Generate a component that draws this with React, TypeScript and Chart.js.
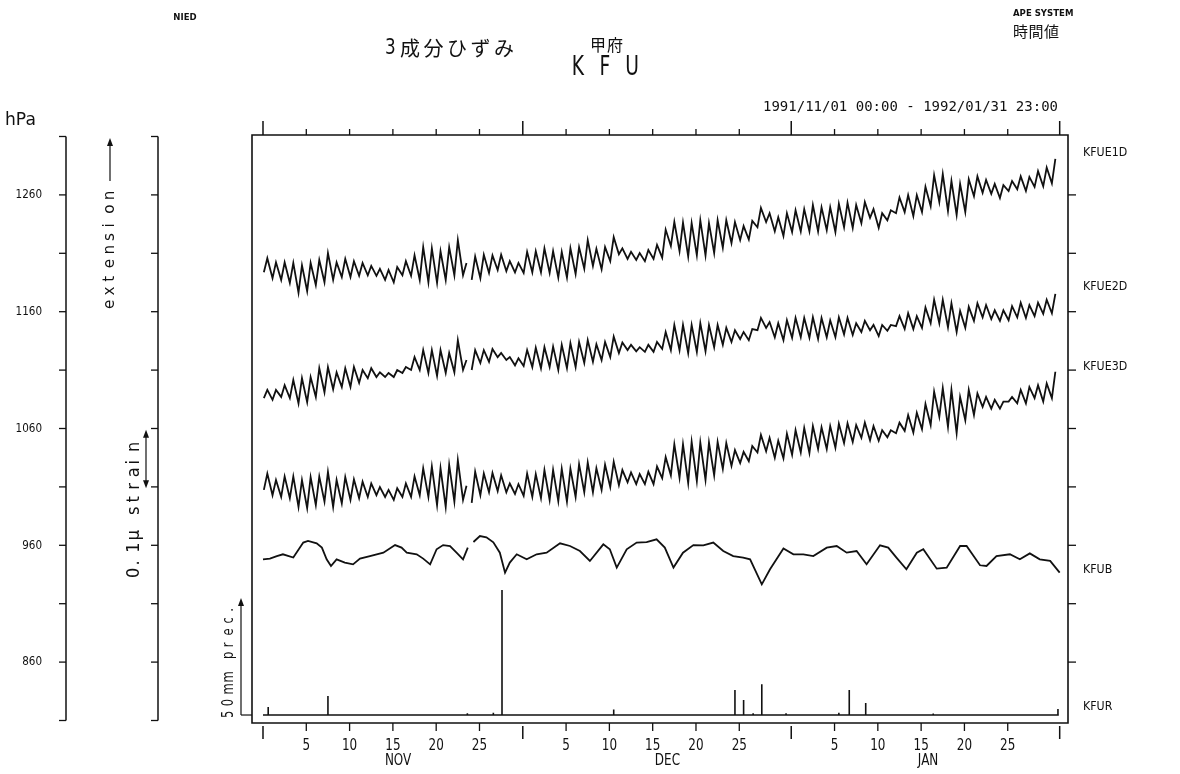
import React, { useEffect, useRef } from "react";
import { Chart, registerables } from "chart.js";

Chart.register(...registerables);

// ---------- time axis (days since 1991/11/01 00:00) ----------
const monthStartDays = [0, 30, 61, 92];
const monthNames = ["NOV", "DEC", "JAN"];
const monthLabelDays = [15.6, 46.7, 76.8];
const dayTickDays = [5, 10, 15, 20, 25];
const dayTickLabels = ["5", "10", "15", "20", "25"];

// ---------- pressure axis (hPa) ----------
const hpaTicks = [810, 860, 910, 960, 1010, 1060, 1110, 1160, 1210, 1260, 1310];
const hpaLabels = [860, 960, 1060, 1160, 1260];
const rightTicks = [860, 910, 960, 1010, 1060, 1110, 1160, 1210, 1260];

// ---------- strain (relative, 1e-9 strain): daily trough and daily peak ----------
const kfue1dLow = [
  767, 757, 754, 749, 732, 735, 745, 750, 754, 759,
  759, 761, 762, 761, 754, 750, 762, 761, 754, 750,
  749, 754, 762, 762, 754, 757, 766, 771, 769, 767,
  766, 767, 767, 766, 758, 758, 764, 773, 778, 772,
  786, 798, 790, 788, 786, 790, 792, 812, 803, 794,
  796, 796, 800, 809, 817, 822, 823, 844, 853, 837,
  829, 836, 837, 837, 837, 839, 836, 844, 843, 851,
  860, 843, 856, 868, 870, 863, 870, 880, 887, 872,
  865, 870, 897, 903, 901, 894, 906, 909, 906, 913,
  914, 919,
];
const kfue1dHigh = [
  791, 784, 784, 783, 779, 783, 788, 800, 784, 790,
  786, 783, 778, 773, 771, 776, 786, 796, 810, 808,
  803, 810, 822, 783, 794, 797, 796, 797, 786, 783,
  802, 803, 808, 803, 802, 808, 810, 822, 807, 810,
  827, 808, 802, 800, 805, 814, 840, 853, 852, 851,
  856, 851, 856, 856, 853, 846, 855, 877, 868, 861,
  868, 873, 875, 882, 878, 878, 884, 886, 882, 887,
  875, 868, 873, 895, 899, 899, 913, 933, 935, 923,
  918, 926, 931, 925, 918, 916, 923, 931, 930, 940,
  946, 961,
];
const kfue2dLow = [
  552, 549, 554, 552, 543, 545, 554, 562, 567, 571,
  571, 578, 586, 588, 588, 588, 595, 600, 600, 595,
  590, 595, 596, 600, 600, 612, 614, 622, 617, 608,
  607, 605, 603, 605, 600, 603, 605, 612, 614, 617,
  622, 629, 634, 632, 631, 631, 636, 634, 634, 629,
  631, 632, 639, 643, 648, 653, 651, 668, 672, 656,
  651, 655, 656, 655, 653, 656, 656, 661, 660, 665,
  668, 658, 667, 675, 670, 670, 672, 680, 680, 673,
  665, 672, 684, 690, 687, 684, 685, 690, 689, 692,
  696, 697,
];
const kfue2dHigh = [
  566, 566, 574, 583, 586, 588, 603, 605, 596, 603,
  605, 600, 603, 596, 595, 600, 605, 622, 634, 634,
  634, 629, 651, 617, 634, 634, 636, 629, 622, 620,
  634, 638, 639, 640, 643, 646, 648, 651, 644, 648,
  657, 647, 643, 639, 643, 648, 665, 677, 677, 677,
  680, 677, 677, 672, 668, 665, 670, 689, 682, 680,
  685, 689, 689, 690, 689, 685, 690, 689, 680, 684,
  677, 677, 677, 692, 697, 692, 707, 720, 720, 714,
  701, 708, 714, 711, 702, 702, 709, 715, 711, 715,
  720, 730,
];
const kfue3dLow = [
  395, 386, 383, 381, 366, 364, 369, 375, 366, 372,
  378, 381, 383, 386, 383, 378, 383, 383, 386, 383,
  369, 366, 375, 378, 373, 386, 391, 393, 391, 388,
  385, 383, 381, 378, 376, 375, 383, 391, 391, 395,
  400, 403, 408, 405, 405, 405, 415, 420, 416, 407,
  410, 412, 420, 431, 436, 441, 444, 459, 461, 450,
  449, 455, 459, 458, 465, 465, 467, 475, 477, 484,
  480, 479, 485, 492, 496, 493, 499, 506, 520, 503,
  492, 514, 523, 537, 534, 534, 546, 543, 543, 552,
  546, 552,
];
const kfue3dHigh = [
  423, 412, 418, 418, 412, 417, 418, 426, 412, 417,
  413, 409, 406, 400, 395, 398, 406, 418, 432, 435,
  432, 438, 446, 402, 426, 423, 424, 420, 406, 405,
  423, 422, 429, 429, 431, 431, 439, 442, 432, 438,
  443, 429, 425, 422, 426, 435, 451, 473, 473, 477,
  476, 476, 477, 475, 463, 460, 470, 489, 484, 479,
  491, 497, 501, 504, 502, 504, 508, 509, 506, 510,
  504, 497, 497, 510, 523, 527, 542, 563, 569, 566,
  554, 566, 560, 554, 549, 546, 554, 566, 571, 574,
  577, 597,
];
const GAP_DAY = 23;
const GAP_AT = 23.8;

// ---------- barometric pressure KFUB (hPa) ----------
const kfubDay = [
  0.0, 0.8, 1.6, 2.3, 3.5, 4.65, 5.2, 6.2, 6.8, 7.35, 7.85, 8.5, 9.45, 10.4, 11.2,
  12.35, 13.9, 15.25, 16.0, 16.6, 17.75, 18.5, 19.3, 20.05, 20.8, 21.6, 22.35, 23.1,
  23.65, 23.95, 24.3, 25.05, 25.8, 26.6, 27.35, 27.95, 28.5, 29.3, 30.45, 31.6, 32.75,
  34.3, 35.45, 36.6, 37.75, 39.3, 40.05, 40.85, 42.0, 43.15, 44.3, 45.45, 46.4, 47.4,
  48.5, 49.7, 50.85, 52.0, 53.15, 54.3, 55.45, 56.25, 57.6, 58.55, 60.1, 61.25, 62.4,
  63.55, 65.1, 66.25, 67.4, 68.55, 69.7, 71.25, 72.2, 73.15, 74.3, 75.5, 76.25, 77.8,
  78.95, 80.5, 81.25, 82.8, 83.55, 84.7, 86.25, 87.4, 88.55, 89.7, 90.9, 92.0,
];
const kfubHpa = [
  948.0, 948.6, 950.8, 952.3, 949.5, 962.3, 963.7, 961.7, 958.0, 948.0, 942.3, 948.0,
  945.2, 943.7, 948.6, 950.8, 953.7, 960.2, 958.0, 953.7, 952.3, 948.6, 943.7, 956.6,
  960.2, 959.4, 953.7, 948.0, 958.0, null, 962.8, 967.9, 966.8, 962.5, 953.7, 936.6,
  945.2, 952.3, 948.0, 952.3, 953.7, 961.7, 959.4, 955.1, 946.6, 960.8, 956.6, 940.9,
  956.6, 962.3, 962.8, 965.1, 958.0, 940.9, 953.7, 960.2, 960.0, 962.3, 955.1, 950.8,
  949.5, 948.0, 926.6, 939.5, 957.2, 952.3, 952.3, 950.8, 958.0, 959.4, 953.7, 955.1,
  943.7, 960.0, 958.0, 949.5, 939.5, 953.7, 956.6, 940.0, 940.9, 959.4, 959.4, 942.9,
  942.3, 950.8, 952.3, 948.0, 953.1, 948.0, 946.6, 936.6,
];

// ---------- precipitation KFUR (mm / hour) ----------
const rainDay = [0.6, 7.5, 23.6, 26.6, 27.6, 40.5, 54.5, 55.5, 56.6, 57.6, 60.4, 66.5, 67.7, 69.6, 77.4, 91.8];
const rainMm = [3.4, 8.1, 0.8, 1.0, 53.4, 2.4, 10.7, 6.4, 0.8, 13.2, 0.8, 1.0, 10.7, 5.1, 0.6, 2.6];
const RAIN_END = 91.9;

const seriesNames = ["KFUE1D", "KFUE2D", "KFUE3D", "KFUB", "KFUR"];
const seriesLabelHpa = [1296, 1181.5, 1113, 939.5, 821.5];
const strainBarStart = 398; // 0.1 micro-strain scale bar
const strainBarLength = 100;

const INK = "#111";
const SANS = '"DejaVu Sans", "Liberation Sans", sans-serif';
const MONO = '"DejaVu Sans Mono", "Liberation Mono", monospace';
const CJK = '"Noto Sans CJK JP", "Noto Sans CJK SC", sans-serif';

type Pt = { x: number; y: number | null };

function dailySeries(low: number[], high: number[]): Pt[] {
  const pts: Pt[] = [];
  low.forEach((lo, d) => {
    pts.push({ x: d + 0.1, y: lo });
    pts.push({ x: d + 0.5, y: high[d] });
    if (d === GAP_DAY) pts.push({ x: GAP_AT, y: null });
  });
  return pts;
}

function rainSeries(): Pt[] {
  const pts: Pt[] = [{ x: 0, y: 0 }];
  rainDay.forEach((d, i) => {
    pts.push({ x: d, y: 0 }, { x: d, y: rainMm[i] }, { x: d, y: 0 });
  });
  pts.push({ x: RAIN_END, y: 0 });
  return pts;
}

function txt(ctx: any, s: string, x: number, y: number, font: string, align: string = "left", sx: number = 1) {
  ctx.save();
  ctx.font = font;
  ctx.textAlign = align;
  ctx.textBaseline = "middle";
  ctx.translate(x, y);
  ctx.scale(sx, 1);
  ctx.fillText(s, 0, 0);
  ctx.restore();
}

function spaced(ctx: any, s: string, x: number, y: number, step: number, font: string, sx: number = 1) {
  Array.from(s).forEach((ch, i) => txt(ctx, ch, x + i * step, y, font, "left", sx));
}

function seg(ctx: any, x1: number, y1: number, x2: number, y2: number, w: number = 1.4) {
  ctx.lineWidth = w;
  ctx.beginPath();
  ctx.moveTo(x1, y1);
  ctx.lineTo(x2, y2);
  ctx.stroke();
}

function head(ctx: any, x: number, y: number, dir: number) {
  // dir = -1 pointing up, +1 pointing down
  ctx.beginPath();
  ctx.moveTo(x, y);
  ctx.lineTo(x - 3, y - dir * 8);
  ctx.lineTo(x + 3, y - dir * 8);
  ctx.closePath();
  ctx.fill();
}

const decor = {
  id: "decor",
  afterDraw(chart: any) {
    const { ctx, chartArea: ca, scales } = chart;
    const xs = scales.x;
    const yh = scales.y;
    const ys = scales.ys;
    const yr = scales.yr;
    const X = (d: number) => xs.getPixelForValue(d);
    const L = ca.left;
    const R = ca.right;
    const T = ca.top;
    const B = ca.bottom + 2;
    ctx.save();
    ctx.strokeStyle = INK;
    ctx.fillStyle = INK;

    // frame
    ctx.lineWidth = 1.6;
    ctx.beginPath();
    ctx.moveTo(L, B);
    ctx.lineTo(L, T);
    ctx.lineTo(R, T);
    ctx.lineTo(R, B);
    ctx.closePath();
    ctx.stroke();

    // time ticks top and bottom
    monthStartDays.forEach((m) => {
      const x = X(m);
      seg(ctx, x, T - 14, x, T, 1.5);
      seg(ctx, x, B + 3, x, B + 16, 1.5);
    });
    const dayFont = "15px " + SANS;
    monthNames.forEach((nm, i) => {
      dayTickDays.forEach((d, j) => {
        const x = X(monthStartDays[i] + d);
        seg(ctx, x, T - 6, x, T, 1.3);
        seg(ctx, x, B, x, B + 8, 1.3);
        txt(ctx, dayTickLabels[j], x, B + 23, dayFont, "center", 0.8);
      });
      txt(ctx, nm, X(monthLabelDays[i]), B + 38, dayFont, "center", 0.8);
    });

    // right ticks
    rightTicks.forEach((v) => {
      const y = yh.getPixelForValue(v);
      seg(ctx, R, y, R + 8, y, 1.3);
    });

    // series labels
    seriesNames.forEach((nm, i) => {
      txt(ctx, nm, 1083, yh.getPixelForValue(seriesLabelHpa[i]), "13px " + SANS, "left", 0.85);
    });

    // hPa axis and strain axis
    const axisX = [66, 158];
    axisX.forEach((ax, k) => {
      seg(ctx, ax, yh.getPixelForValue(1310), ax, yh.getPixelForValue(810), 1.5);
      hpaTicks.forEach((v) => {
        const y = yh.getPixelForValue(v);
        seg(ctx, ax - 7, y, ax, y, 1.3);
      });
      if (k === 0) {
        hpaLabels.forEach((v) => {
          txt(ctx, String(v), 42, yh.getPixelForValue(v), "13px " + SANS, "right", 0.8);
        });
      }
    });
    txt(ctx, "hPa", 5, 120, "18px " + SANS, "left", 0.95);

    // "extension" with arrow (rotated)
    ctx.save();
    ctx.translate(110, 309);
    ctx.rotate(-Math.PI / 2);
    spaced(ctx, "extension", 0, 0, 13.6, "16px " + SANS, 0.95);
    ctx.restore();
    seg(ctx, 110, 181, 110, 142, 1.2);
    head(ctx, 110, 138, -1);

    // 0.1 micro strain scale
    ctx.save();
    ctx.translate(135, 578);
    ctx.rotate(-Math.PI / 2);
    spaced(ctx, "0.1\u03bc strain", 0, 0, 12.6, "17px " + SANS, 0.95);
    ctx.restore();
    const sy1 = ys.getPixelForValue(strainBarStart);
    const sy2 = ys.getPixelForValue(strainBarStart + strainBarLength);
    seg(ctx, 146, sy1 - 4, 146, sy2 + 4, 1.2);
    head(ctx, 146, sy1, 1);
    head(ctx, 146, sy2, -1);

    // 50mm precipitation scale
    ctx.save();
    ctx.translate(229, 718);
    ctx.rotate(-Math.PI / 2);
    spaced(ctx, "50mm prec.", 0, 0, 11.8, "16px " + SANS, 0.72);
    ctx.restore();
    const r0 = yr.getPixelForValue(0);
    const r50 = yr.getPixelForValue(50);
    seg(ctx, 241, r0, 241, r50 + 4, 1.2);
    seg(ctx, 241, r0, L, r0, 1.2);
    head(ctx, 241, r50, -1);

    // header
    txt(ctx, "NIED", 185, 18, "bold 9px " + SANS, "center", 0.95);
    txt(ctx, "APE SYSTEM", 1013, 14, "bold 9px " + SANS, "left", 0.95);
    spaced(ctx, "\u6642\u9593\u5024", 1013, 31, 15.5, "15px " + CJK);
    txt(ctx, "3", 385, 49, "21px " + SANS, "left", 0.8);
    spaced(ctx, "\u6210\u5206\u3072\u305a\u307f", 400, 48, 23.5, "20px " + CJK);
    spaced(ctx, "\u7532\u5e9c", 590, 45, 17, "16px " + CJK);
    txt(ctx, "K", 578, 68, "26px " + SANS, "center", 0.72);
    txt(ctx, "F", 605, 68, "26px " + SANS, "center", 0.72);
    txt(ctx, "U", 632, 68, "26px " + SANS, "center", 0.72);
    txt(ctx, "1991/11/01 00:00 - 1992/01/31 23:00", 763, 107, "14px " + MONO, "left", 1);

    ctx.restore();
  },
};

export default function App() {
  const ref = useRef<HTMLCanvasElement>(null);
  useEffect(() => {
    const canvas = ref.current;
    if (!canvas) return;
    const lineStyle = {
      borderColor: INK,
      borderWidth: 1.8,
      pointRadius: 0,
      tension: 0,
      spanGaps: false,
      fill: false,
    };
    const chart = new Chart(canvas, {
      type: "line",
      data: {
        datasets: [
          { label: "KFUE1D", data: dailySeries(kfue1dLow, kfue1dHigh), yAxisID: "ys", ...lineStyle },
          { label: "KFUE2D", data: dailySeries(kfue2dLow, kfue2dHigh), yAxisID: "ys", ...lineStyle },
          { label: "KFUE3D", data: dailySeries(kfue3dLow, kfue3dHigh), yAxisID: "ys", ...lineStyle },
          {
            label: "KFUB",
            data: kfubDay.map((d, i) => ({ x: d, y: kfubHpa[i] })),
            yAxisID: "y",
            ...lineStyle,
          },
          { label: "KFUR", data: rainSeries(), yAxisID: "yr", ...lineStyle, borderWidth: 1.6 },
        ],
      } as any,
      options: {
        responsive: false,
        animation: false,
        devicePixelRatio: 1,
        events: [],
        layout: { padding: { left: 252, top: 135, right: 112, bottom: 53 } },
        scales: {
          x: { type: "linear", display: false, min: -1.27, max: 92.96 },
          y: { type: "linear", display: false, min: 809.57, max: 1311.28 },
          ys: { type: "linear", display: false, min: 0, max: 1001.7 },
          yr: { type: "linear", display: false, min: -2.56, max: 247.9 },
        },
        plugins: { legend: { display: false }, tooltip: { enabled: false } },
      } as any,
      plugins: [decor],
    });
    return () => chart.destroy();
  }, []);
  return (
    <div style={{ position: "fixed", left: 0, top: 0, width: 1180, height: 774, background: "#fff" }}>
      <canvas ref={ref} width={1180} height={774} style={{ display: "block", width: 1180, height: 774 }} />
    </div>
  );
}
